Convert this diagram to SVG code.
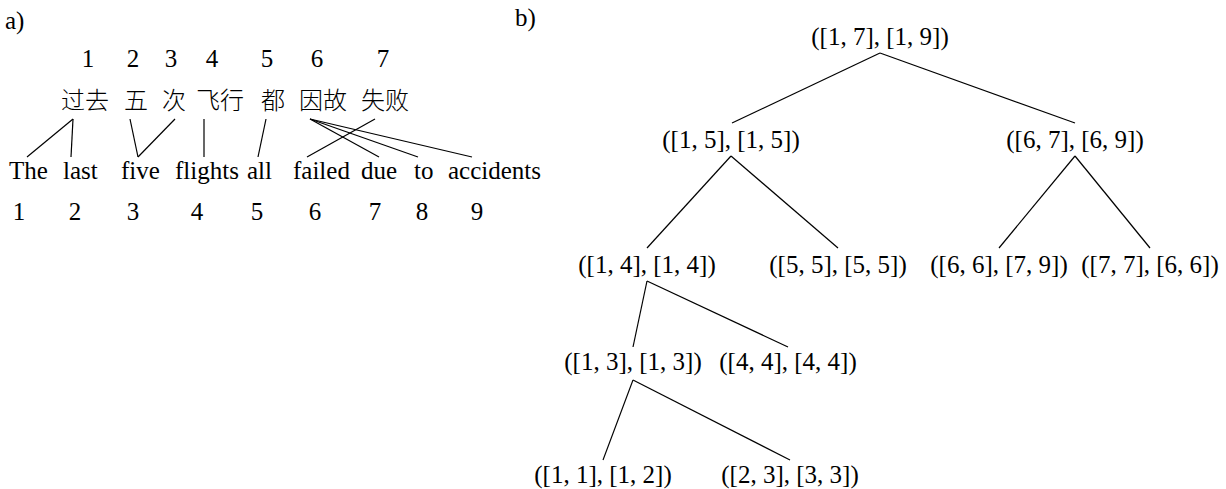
<svg xmlns="http://www.w3.org/2000/svg" width="1226" height="489" viewBox="0 0 1226 489">
<style>
.t text{font-family:Liberation Serif, serif;font-size:25px;fill:#000}
.t text.zh{font-family:Noto Sans CJK SC, sans-serif;font-size:24px;font-weight:300}
.t text.m{text-anchor:middle}
line{stroke:#000;stroke-width:1.2}
</style>
<rect width="1226" height="489" fill="#fff"/>
<g class="t">
<g id="part-a">
<text x="5" y="29">a)</text>
<g id="zh-index">
<text class="m" x="88" y="67">1</text>
<text class="m" x="133" y="67">2</text>
<text class="m" x="171" y="67">3</text>
<text class="m" x="212" y="67">4</text>
<text class="m" x="267" y="67">5</text>
<text class="m" x="317" y="67">6</text>
<text class="m" x="383" y="67">7</text>
</g>
<g id="zh-words">
<text class="zh" x="61" y="109">过去</text>
<text class="zh" x="124" y="109">五</text>
<text class="zh" x="162" y="109">次</text>
<text class="zh" x="196" y="109">飞行</text>
<text class="zh" x="261" y="109">都</text>
<text class="zh" x="299" y="109">因故</text>
<text class="zh" x="361" y="109">失败</text>
</g>
<g id="en-words">
<text x="9" y="179">The</text>
<text x="63" y="179">last</text>
<text x="121" y="179">five</text>
<text x="175" y="179">flights</text>
<text x="247" y="179">all</text>
<text x="293" y="179">failed</text>
<text x="361" y="179">due</text>
<text x="414" y="179">to</text>
<text x="448" y="179">accidents</text>
</g>
<g id="en-index">
<text class="m" x="19" y="220">1</text>
<text class="m" x="75" y="220">2</text>
<text class="m" x="133" y="220">3</text>
<text class="m" x="197" y="220">4</text>
<text class="m" x="257" y="220">5</text>
<text class="m" x="315" y="220">6</text>
<text class="m" x="375" y="220">7</text>
<text class="m" x="422" y="220">8</text>
<text class="m" x="477" y="220">9</text>
</g>
<g id="alignments">
<line x1="73" y1="119" x2="27" y2="157"/>
<line x1="73" y1="119" x2="71" y2="157"/>
<line x1="130" y1="119" x2="138" y2="157"/>
<line x1="175" y1="119" x2="138" y2="157"/>
<line x1="204" y1="119" x2="204" y2="157"/>
<line x1="266" y1="119" x2="258" y2="157"/>
<line x1="310" y1="119" x2="379" y2="157"/>
<line x1="310" y1="119" x2="418" y2="157"/>
<line x1="310" y1="119" x2="472" y2="157"/>
<line x1="375" y1="119" x2="307" y2="157"/>
</g>
</g>
<text x="515" y="26">b)</text>
<g id="connectors">
<line x1="880" y1="53" x2="732" y2="123"/>
<line x1="880" y1="53" x2="1075" y2="123"/>
<line x1="731" y1="156" x2="647" y2="248"/>
<line x1="731" y1="156" x2="838" y2="248"/>
<line x1="1075" y1="156" x2="999" y2="248"/>
<line x1="1075" y1="156" x2="1150" y2="248"/>
<line x1="647" y1="281" x2="633" y2="347"/>
<line x1="647" y1="281" x2="788" y2="347"/>
<line x1="633" y1="380" x2="603" y2="460"/>
<line x1="633" y1="380" x2="790" y2="460"/>
</g>
<g id="n-root"><text class="m" x="880" y="45">([1, 7], [1, 9])</text></g>
<g id="n-15"><text class="m" x="731" y="148">([1, 5], [1, 5])</text></g>
<g id="n-67"><text class="m" x="1075" y="148">([6, 7], [6, 9])</text></g>
<g id="n-14"><text class="m" x="647" y="273">([1, 4], [1, 4])</text></g>
<g id="n-55"><text class="m" x="838" y="273">([5, 5], [5, 5])</text></g>
<g id="n-66"><text class="m" x="999" y="273">([6, 6], [7, 9])</text></g>
<g id="n-77"><text class="m" x="1150" y="273">([7, 7], [6, 6])</text></g>
<g id="n-13"><text class="m" x="633" y="370">([1, 3], [1, 3])</text></g>
<g id="n-44"><text class="m" x="788" y="370">([4, 4], [4, 4])</text></g>
<g id="n-11"><text class="m" x="603" y="483">([1, 1], [1, 2])</text></g>
<g id="n-23"><text class="m" x="790" y="483">([2, 3], [3, 3])</text></g>
</g>
</svg>
